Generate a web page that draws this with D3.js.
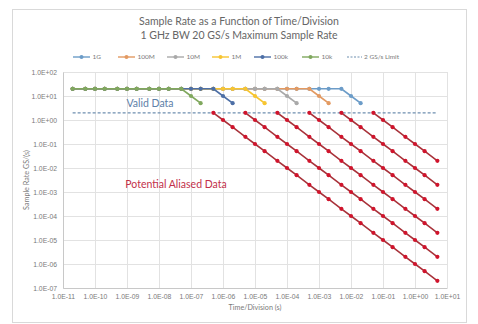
<!DOCTYPE html>
<html>
<head>
<meta charset="utf-8">
<script src="https://cdn.jsdelivr.net/npm/d3@7"></script>
<style>
  html, body { margin: 0; padding: 0; background: #fff; }
  svg { display: block; font-family: Lato, "Open Sans", sans-serif; }
</style>
</head>
<body>
<svg id="chart" width="478" height="324"></svg>
<script>
// Time/division settings (1-2-5 sequence), seconds
const timeDiv = [2e-11, 5e-11, 1e-10, 2e-10, 5e-10, 1e-9, 2e-9, 5e-9, 1e-8, 2e-8, 5e-8,
  1e-7, 2e-7, 5e-7, 1e-6, 2e-6, 5e-6, 1e-5, 2e-5, 5e-5, 1e-4, 2e-4, 5e-4,
  1e-3, 2e-3, 5e-3, 1e-2, 2e-2, 5e-2, 0.1, 0.2, 0.5, 1, 2, 5];

// Sample rate (GS/s) per memory depth, starting at timeDiv[0]
const rate1G   = [20,20,20,20,20,20,20,20,20,20,20,20,20,20,20,20,20,20,20,20,20,20,20,20,20,20,10,5];
const rate100M = [20,20,20,20,20,20,20,20,20,20,20,20,20,20,20,20,20,20,20,20,20,20,20,10,5];
const rate10M  = [20,20,20,20,20,20,20,20,20,20,20,20,20,20,20,20,20,20,20,20,10,5];
const rate1M   = [20,20,20,20,20,20,20,20,20,20,20,20,20,20,20,20,20,10,5];
const rate100k = [20,20,20,20,20,20,20,20,20,20,20,20,20,20,10,5];
const rate10k  = [20,20,20,20,20,20,20,20,20,20,20,10,5];

// Sample rate (GS/s) once below the 2 GS/s limit; start index into timeDiv
const alias10k  = { start: 13, values: [2,1,0.5,0.2,0.1,0.05,0.02,0.01,5e-3,2e-3,1e-3,5e-4,2e-4,1e-4,5e-5,2e-5,1e-5,5e-6,2e-6,1e-6,5e-7,2e-7] };
const alias100k = { start: 16, values: [2,1,0.5,0.2,0.1,0.05,0.02,0.01,5e-3,2e-3,1e-3,5e-4,2e-4,1e-4,5e-5,2e-5,1e-5,5e-6,2e-6] };
const alias1M   = { start: 19, values: [2,1,0.5,0.2,0.1,0.05,0.02,0.01,5e-3,2e-3,1e-3,5e-4,2e-4,1e-4,5e-5,2e-5] };
const alias10M  = { start: 22, values: [2,1,0.5,0.2,0.1,0.05,0.02,0.01,5e-3,2e-3,1e-3,5e-4,2e-4] };
const alias100M = { start: 25, values: [2,1,0.5,0.2,0.1,0.05,0.02,0.01,5e-3,2e-3] };
const alias1G   = { start: 28, values: [2,1,0.5,0.2,0.1,0.05,0.02] };

const limitRate = 2;
const limitSpan = [2e-11, 5];

const seriesNames  = ["1G", "100M", "10M", "1M", "100k", "10k"];
const seriesColors = ["#6c9cc8", "#e39a62", "#a9a9a9", "#f7c531", "#4d6fa6", "#80a85e"];

const xTickValues = [1e-11,1e-10,1e-9,1e-8,1e-7,1e-6,1e-5,1e-4,1e-3,1e-2,1e-1,1,10];
const xTickLabels = ["1.0E-11","1.0E-10","1.0E-09","1.0E-08","1.0E-07","1.0E-06","1.0E-05","1.0E-04","1.0E-03","1.0E-02","1.0E-01","1.0E+00","1.0E+01"];
const yTickValues = [1e-7,1e-6,1e-5,1e-4,1e-3,1e-2,1e-1,1,10,100];
const yTickLabels = ["1.0E-07","1.0E-06","1.0E-05","1.0E-04","1.0E-03","1.0E-02","1.0E-01","1.0E+00","1.0E+01","1.0E+02"];

const svg = d3.select("#chart");

// outer chart frame
svg.append("rect").attr("x", 12.5).attr("y", 9.5).attr("width", 454).attr("height", 313)
  .attr("fill", "#fff").attr("stroke", "#d9d9d9");

const plot = { left: 63, right: 447, top: 72, bottom: 288 };
const x = d3.scaleLog().domain([1e-11, 10]).range([plot.left, plot.right]);
const y = d3.scaleLog().domain([1e-7, 100]).range([plot.bottom, plot.top]);

// gridlines
const grid = svg.append("g");
grid.selectAll(".gx").data(xTickValues).join("line")
  .attr("x1", d => Math.round(x(d)) + 0.5).attr("x2", d => Math.round(x(d)) + 0.5)
  .attr("y1", plot.top).attr("y2", plot.bottom)
  .attr("stroke", "#e2e2e2").attr("stroke-width", 1);
grid.selectAll(".gy").data(yTickValues).join("line")
  .attr("x1", plot.left).attr("x2", plot.right)
  .attr("y1", d => Math.round(y(d)) + 0.5).attr("y2", d => Math.round(y(d)) + 0.5)
  .attr("stroke", "#e2e2e2").attr("stroke-width", 1);

// axes
const xAxis = d3.axisBottom(x).tickValues(xTickValues)
  .tickFormat((d, i) => xTickLabels[i]).tickSize(0).tickPadding(6);
const gx = svg.append("g").attr("transform", `translate(0,${plot.bottom})`).call(xAxis);
gx.select(".domain").attr("stroke", "#c8c8c8");
gx.selectAll("text").attr("fill", "#7a7a7a").attr("font-size", 6.8);

const yAxis = d3.axisLeft(y).tickValues(yTickValues)
  .tickFormat((d, i) => yTickLabels[i]).tickSize(0).tickPadding(6);
const gy = svg.append("g").attr("transform", `translate(${plot.left},0)`).call(yAxis);
gy.select(".domain").attr("stroke", "#c8c8c8");
gy.selectAll("text").attr("fill", "#7a7a7a").attr("font-size", 6.8);

// axis titles
svg.append("text").attr("x", (plot.left + plot.right) / 2).attr("y", 310)
  .attr("text-anchor", "middle").attr("font-size", 7.2).attr("fill", "#7a7a7a")
  .text("Time/Division (s)");
svg.append("text").attr("transform", `translate(29,${(plot.top + plot.bottom) / 2}) rotate(-90)`)
  .attr("text-anchor", "middle").attr("font-size", 7.2).attr("fill", "#7a7a7a")
  .text("Sample Rate GS/(s)");

// titles
svg.append("text").attr("x", 239).attr("y", 25).attr("text-anchor", "middle")
  .attr("font-size", 10.5).attr("fill", "#666").text("Sample Rate as a Function of Time/Division");
svg.append("text").attr("x", 239).attr("y", 39).attr("text-anchor", "middle")
  .attr("font-size", 10.5).attr("fill", "#666").text("1 GHz BW 20 GS/s Maximum Sample Rate");

// 2 GS/s limit line
svg.append("line")
  .attr("x1", x(limitSpan[0])).attr("x2", x(limitSpan[1]))
  .attr("y1", y(limitRate)).attr("y2", y(limitRate))
  .attr("stroke", "#6f8fb0").attr("stroke-width", 1.2).attr("stroke-dasharray", "3,2");

const line = d3.line().x(d => x(d.t)).y(d => y(d.r));

// aliased region series
const aliasSeries = [alias1G, alias100M, alias10M, alias1M, alias100k, alias10k];
aliasSeries.forEach(s => {
  const pts = s.values.map((r, i) => ({ t: timeDiv[s.start + i], r }));
  const g = svg.append("g");
  g.append("path").datum(pts).attr("d", line).attr("fill", "none")
    .attr("stroke", "#a8323a").attr("stroke-width", 1.6);
  g.selectAll("circle").data(pts).join("circle")
    .attr("cx", d => x(d.t)).attr("cy", d => y(d.r)).attr("r", 2.1)
    .attr("fill", "#d0142c");
});

// valid sample-rate series per memory depth
const rateSeries = [rate1G, rate100M, rate10M, rate1M, rate100k, rate10k];
rateSeries.forEach((vals, k) => {
  const pts = vals.map((r, i) => ({ t: timeDiv[i], r }));
  const g = svg.append("g");
  g.append("path").datum(pts).attr("d", line).attr("fill", "none")
    .attr("stroke", seriesColors[k]).attr("stroke-width", 1.6);
  g.selectAll("circle").data(pts).join("circle")
    .attr("cx", d => x(d.t)).attr("cy", d => y(d.r)).attr("r", 2.1)
    .attr("fill", seriesColors[k]);
});

// region annotations
svg.append("text").attr("x", 150).attr("y", 106.5).attr("text-anchor", "middle")
  .attr("font-size", 10.5).attr("fill", "#5d80a8").text("Valid Data");
svg.append("text").attr("x", 176).attr("y", 188).attr("text-anchor", "middle")
  .attr("font-size", 10.5).attr("fill", "#c2304a").text("Potential Aliased Data");

// legend
const legendX = [73, 118, 167, 212, 254, 302];
const legY = 57;
const leg = svg.append("g");
seriesNames.forEach((name, k) => {
  const lx = legendX[k];
  leg.append("line").attr("x1", lx).attr("x2", lx + 17).attr("y1", legY).attr("y2", legY)
    .attr("stroke", seriesColors[k]).attr("stroke-width", 1.4);
  leg.append("circle").attr("cx", lx + 8.5).attr("cy", legY).attr("r", 2)
    .attr("fill", seriesColors[k]);
  leg.append("text").attr("x", lx + 19.5).attr("y", legY + 2.3)
    .attr("font-size", 6.5).attr("fill", "#7a7a7a").text(name);
});
leg.append("line").attr("x1", 347).attr("x2", 362).attr("y1", legY).attr("y2", legY)
  .attr("stroke", "#6f8fb0").attr("stroke-width", 1.1).attr("stroke-dasharray", "2,1.5");
leg.append("text").attr("x", 364).attr("y", legY + 2.3)
  .attr("font-size", 6.5).attr("fill", "#7a7a7a").text("2 GS/s Limit");
</script>
</body>
</html>
